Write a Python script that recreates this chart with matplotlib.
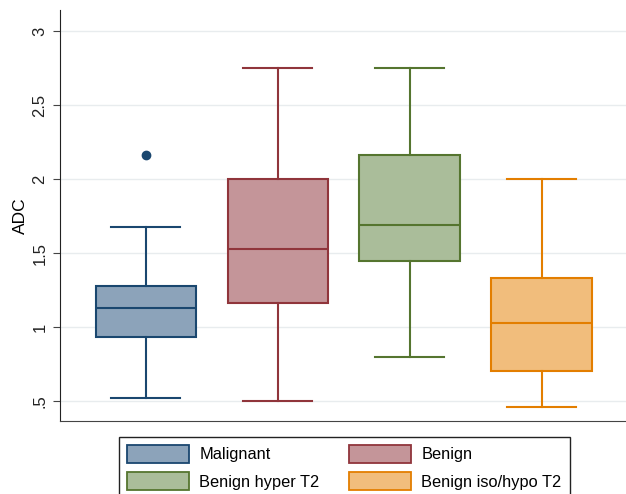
import matplotlib.pyplot as plt
from matplotlib.patches import Patch

plt.rcParams['font.family'] = ['Liberation Sans', 'DejaVu Sans']

groups = ["Malignant", "Benign", "Benign hyper T2", "Benign iso/hypo T2"]
whislo = [0.52, 0.50, 0.80, 0.46]
q1 = [0.935, 1.165, 1.445, 0.70]
med = [1.13, 1.53, 1.69, 1.03]
q3 = [1.275, 2.00, 2.16, 1.33]
whishi = [1.675, 2.75, 2.75, 2.00]
outliers = [[2.16], [], [], []]

edges = ["#1a476f", "#90353b", "#55752f", "#e37e00"]
fills = ["#8ca3ba", "#c49599", "#aabd9a", "#f1bd7c"]

fig = plt.figure(figsize=(6.26, 4.94), dpi=100)
ax = fig.add_axes([60 / 626, 73 / 494, 566 / 626, 411 / 494])

stats = []
for i, g in enumerate(groups):
    stats.append(dict(label=g, whislo=whislo[i], q1=q1[i], med=med[i],
                      q3=q3[i], whishi=whishi[i], fliers=outliers[i]))

for i, s in enumerate(stats):
    c = edges[i]
    ax.bxp([s], positions=[i + 1], widths=0.76, patch_artist=True,
           boxprops=dict(facecolor=fills[i], edgecolor=c, linewidth=1.5),
           medianprops=dict(color=c, linewidth=1.5),
           whiskerprops=dict(color=c, linewidth=1.5),
           capprops=dict(color=c, linewidth=1.5),
           capwidths=0.52,
           flierprops=dict(marker='o', markerfacecolor=c, markeredgecolor=c,
                           markersize=6))

ax.set_xlim(0.35, 4.64)
ax.set_ylim(0.365, 3.142)
ax.set_yticks([0.5, 1, 1.5, 2, 2.5, 3])
ax.set_yticklabels([".5", "1", "1.5", "2", "2.5", "3"], rotation=90,
                   va='center', fontsize=12, color="#222222")
ax.set_xticks([])
ax.set_ylabel("ADC", fontsize=12.5, labelpad=3)
ax.yaxis.grid(True, color="#e8ecee", linewidth=1)
ax.set_axisbelow(True)
for side in ["top", "right"]:
    ax.spines[side].set_visible(False)
ax.spines["left"].set_color("#222222")
ax.spines["bottom"].set_color("#444444")
ax.tick_params(axis='y', length=5, color="#444444", pad=4)

# legend is filled row by row in the reference
order = [0, 2, 1, 3]
handles = [Patch(facecolor=fills[i], edgecolor=edges[i], linewidth=1.3)
           for i in order]
labels = [groups[i] for i in order]
fig.legend(handles, labels, loc='upper left', ncol=2,
           bbox_to_anchor=(119 / 626, 1 - 437 / 494), borderaxespad=0,
           fontsize=11.8, handlelength=3.8, handleheight=1.25,
           columnspacing=1.8, labelspacing=0.6, handletextpad=0.6,
           borderpad=0.5, fancybox=False, framealpha=1,
           edgecolor="#222222")

fig.savefig("out.png", dpi=100)
